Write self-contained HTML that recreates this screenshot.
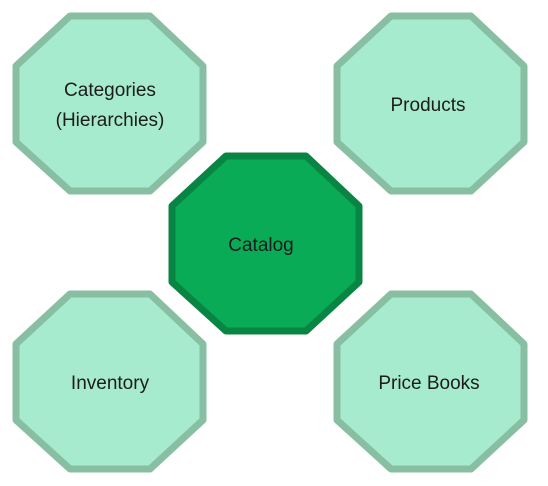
<!DOCTYPE html>
<html><head><style>
html,body{margin:0;padding:0;background:#fff;}
svg{display:block;}
text{font-family:"Liberation Sans",sans-serif;font-size:19px;fill:#1c1c1c;text-anchor:middle;}
</style></head><body>
<svg width="548" height="486" viewBox="0 0 548 486">
<defs>
<polygon id="oct" points="70,16 150,16 203,66 203,142 150,191 70,191 16,142 16,66"/>
</defs>
<g stroke-width="7" stroke-linejoin="round">
<use href="#oct" fill="#a7ebce" stroke="#88bfa3"/>
<use href="#oct" fill="#a7ebce" stroke="#88bfa3" transform="translate(321,0)"/>
<use href="#oct" fill="#a7ebce" stroke="#88bfa3" transform="translate(0,278)"/>
<use href="#oct" fill="#a7ebce" stroke="#88bfa3" transform="translate(321,278)"/>
<use href="#oct" fill="#0aab57" stroke="#088542" transform="translate(156,140)"/>
</g>
<text x="110" y="96">Categories</text>
<text x="110" y="126">(Hierarchies)</text>
<text x="428" y="111">Products</text>
<text x="261" y="251">Catalog</text>
<text x="110" y="389">Inventory</text>
<text x="429" y="389">Price Books</text>
</svg>
</body></html>
